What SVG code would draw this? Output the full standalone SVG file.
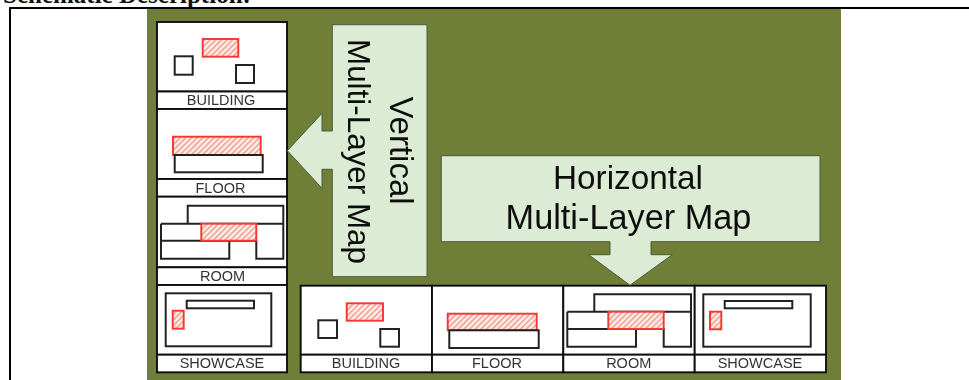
<svg xmlns="http://www.w3.org/2000/svg" width="969" height="380" viewBox="0 0 969 380">
<style>
.b{fill:#fff;stroke:#111;stroke-width:1.9}
.k{fill:#fff;stroke:#222;stroke-width:2}
.r{fill:url(#h);stroke:#f5352f;stroke-width:1.9}
.c{fill:#dcebd3;stroke:#4c5a3a;stroke-width:1}
.l{font-family:"Liberation Sans",Arial,sans-serif;font-size:14.5px;fill:#333;text-anchor:middle}
.t{font-family:"Liberation Sans",Arial,sans-serif;fill:#111;text-anchor:middle}
</style>
<defs>
<pattern id="h" width="4" height="4" patternUnits="userSpaceOnUse" patternTransform="rotate(45)">
<rect width="4" height="4" fill="#fdf0ec"/><rect width="1.5" height="4" fill="#f29a88"/>
</pattern>
<filter id="s" x="-2%" y="-2%" width="104%" height="104%"><feGaussianBlur stdDeviation="0.4"/></filter>
</defs>
<rect width="969" height="380" fill="#fff"/>
<text x="3" y="2.5" font-family="'Liberation Serif','Times New Roman',serif" font-weight="bold" font-size="25" fill="#111">Schematic Description:</text>
<path d="M10 380V8H969" fill="none" stroke="#000" stroke-width="2"/>
<rect x="147" y="9" width="694" height="371" fill="#6f7f37"/>
<g filter="url(#s)">
<g id="v-building">
<rect class="b" x="157" y="22" width="130" height="69.5"/><rect class="b" x="157" y="91.5" width="130" height="17.5"/>
<rect class="r" x="202.7" y="39" width="35.6" height="17.7"/>
<rect class="k" x="174.7" y="56.3" width="18" height="18.4"/><rect class="k" x="236" y="65" width="18" height="18"/>
<text class="l" x="221" y="105">BUILDING</text>
</g>
<g id="v-floor">
<rect class="b" x="157" y="109" width="130" height="70"/><rect class="b" x="157" y="179" width="130" height="17.7"/>
<rect class="r" x="173" y="136.7" width="87.7" height="18.3"/>
<rect class="k" x="174.7" y="155" width="88" height="17.3"/>
<text class="l" x="220.5" y="193">FLOOR</text>
</g>
<g id="v-room">
<rect class="b" x="157" y="196.7" width="130" height="70.6"/><rect class="b" x="157" y="267.3" width="130" height="17.7"/>
<path class="k" d="M187.7 223.7V205.7H283.3V223.7M161 223.7H283.3V258.7H256.3V240.7H229.3V258.7H161V223.7M161 240.7H229.3"/>
<rect class="r" x="201.3" y="223.7" width="55" height="17"/>
<text class="l" x="222.5" y="281">ROOM</text>
</g>
<g id="v-showcase">
<rect class="b" x="157" y="285" width="130" height="69.7"/><rect class="b" x="157" y="354.7" width="130" height="17.6"/>
<rect class="k" x="165.7" y="293.3" width="105.6" height="53"/>
<rect class="k" x="186.7" y="300.7" width="67.3" height="7.6"/>
<rect class="r" x="172.7" y="310.7" width="11" height="18"/>
<text class="l" x="222" y="368">SHOWCASE</text>
</g>
<g id="h-building">
<rect class="b" x="300.7" y="285.7" width="131.3" height="69"/><rect class="b" x="300.7" y="354.7" width="131.3" height="17.6"/>
<rect class="r" x="346.7" y="303.3" width="36.3" height="17.4"/>
<rect class="k" x="318.3" y="320.3" width="18.7" height="17.7"/><rect class="k" x="380.3" y="329" width="18.7" height="17.7"/>
<text class="l" x="366" y="368">BUILDING</text>
</g>
<g id="h-floor">
<rect class="b" x="432" y="285.7" width="131.3" height="69"/><rect class="b" x="432" y="354.7" width="131.3" height="17.6"/>
<rect class="r" x="447.7" y="313.7" width="89" height="16.6"/>
<rect class="k" x="449.3" y="330.3" width="89.4" height="17.7"/>
<text class="l" x="497" y="368">FLOOR</text>
</g>
<g id="h-room">
<rect class="b" x="563.3" y="285.7" width="131.4" height="69"/><rect class="b" x="563.3" y="354.7" width="131.4" height="17.6"/>
<path class="k" d="M594.3 311.7V294.3H691V311.7M567.3 311.7H691V346.7H663.7V329H636V346.7H567.3V311.7M567.3 329H636"/>
<rect class="r" x="608.3" y="311.7" width="55.4" height="17.3"/>
<text class="l" x="628.7" y="368">ROOM</text>
</g>
<g id="h-showcase">
<rect class="b" x="694.7" y="285.7" width="131.3" height="69"/><rect class="b" x="694.7" y="354.7" width="131.3" height="17.6"/>
<rect class="k" x="703.3" y="294.3" width="107.4" height="52.4"/>
<rect class="k" x="724.7" y="301" width="67.6" height="7.3"/>
<rect class="r" x="710" y="311.7" width="11.3" height="17.6"/>
<text class="l" x="760" y="368">SHOWCASE</text>
</g>
<g id="vertical-callout">
<path class="c" d="M332.3 24.7H427V276.7H332.3V169.3H322V188.3L287.3 150.7L322 113.3V131H332.3Z"/>
<text class="t" transform="translate(390 150.5) rotate(90)" font-size="33">Vertical</text>
<text class="t" transform="translate(347.7 151.5) rotate(90)" font-size="31.4">Multi-Layer Map</text>
</g>
<g id="horizontal-callout">
<path class="c" d="M441.3 155.7H820V241.7H651V254.7H672.3L630 285.3L588.7 254.7H610V241.7H441.3Z"/>
<text class="t" x="628" y="188.5" font-size="33.3">Horizontal</text>
<text class="t" x="628.5" y="228.5" font-size="34.3">Multi-Layer Map</text>
</g>
</g>
<g id="connectors"/>
</svg>
